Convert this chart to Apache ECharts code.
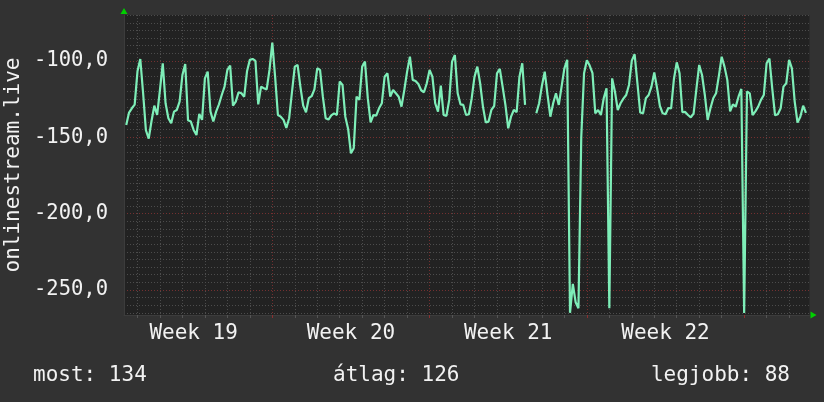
<!doctype html>
<html>
<head>
<meta charset="utf-8">
<title>onlinestream.live</title>
<style>
  html, body { margin: 0; padding: 0; background: #323232; }
  #main { width: 824px; height: 402px; }
</style>
</head>
<body>
<div id="main"></div>
<script src="https://cdn.jsdelivr.net/npm/echarts@6/dist/echarts.min.js"></script>
<script>
var font = '"DejaVu Sans Mono", monospace';
var seriesName = 'onlinestream.live';

// one sample every 3 hours, hours counted from the start of week 19
var startHour = 12;
var stepHours = 3;
var ranks = [
  141.9, 133.8, 131.0, 128.6, 106.8, 98.7, 121, 145.4, 150.9, 139.3,
  129.3, 135.4, 119.0, 101.5, 127.7, 137.5, 140.8, 133.2, 132.1, 126.6,
  109.2, 102, 138.9, 139.7, 145.2, 148.5, 134.7, 138.6, 111.4, 107,
  133.2, 139.7, 133.2, 128.4, 122.3, 116.8, 105.9, 103.1, 129.3, 126.6,
  120.5, 121.2, 123.4, 106.8, 99.3, 98.7, 100, 128.4, 116.8, 117.9,
  118.6, 105.9, 88, 110.3, 135.4, 136.5, 138.6, 143.9, 137.5, 120.5,
  103.7, 102.6, 116.8, 129.3, 133.6, 124.4, 123.1, 118.6, 104.8, 105.9,
  123.4, 137.5, 138.4, 135.6, 134.3, 135.4, 113.5, 115.7, 136.5, 144.5,
  160.5, 157.2, 123.4, 125.5, 103.7, 100.4, 124.4, 140.2, 135.4, 135.8,
  131.0, 127.7, 110.3, 108.1, 123.4, 119, 121.2, 123.4, 129.9, 119.0,
  107.0, 97.2, 112.4, 113.1, 115.1, 119.2, 120.5, 114.6, 105.9, 110.3,
  127.7, 133.2, 116.2, 135.4, 136, 125.5, 100.4, 96.1, 121.2, 128.4,
  128.8, 135.4, 134.9, 124.4, 110.3, 103.7, 114.6, 129.9, 140.2, 139.7,
  132.1, 129.5, 108.1, 105.2, 116.8, 128.8, 144.1, 136.5, 132.1, 133.6,
  110.3, 101.5, 128.8, null, null, null, 134.3, 127.7, 116.2, 107.0,
  122.3, 136.5, 127.7, 121.2, 128.8, 116.8, 104.8, 99.3, 265, 246,
  258, 262, 150, 108, 99.5, 103, 108, 134.3, 132.1, 135.4,
  124.4, 117.9, 262, 111.4, 120.1, 132.1, 127.7, 124.7, 122.3, 115.7,
  99.8, 95.6, 114.6, 133.8, 134.3, 124.4, 122.3, 116.8, 107.6, 117.9,
  129.5, 134.3, 134.9, 130.8, 131.0, 111.8, 100.9, 108.1, 133.6, 133.4,
  135.4, 136.9, 134.5, 118.3, 102.6, 109.2, 122.3, 138.6, 131.0, 124.4,
  121.2, 109.8, 97.2, 103.7, 112.4, 133, 128.4, 129.9, 123.4, 118.3,
  265, 120, 121.2, 135.4, 133, 129.9, 125.5, 122.3, 101.5, 98.5,
  117.9, 135.6, 134.9, 131.0, 116.8, 114.6, 99.3, 104.8, 126.6, 140.4,
  136.5, 129.3, 134
];

var xRange = [9.6, 741.8];
var yRange = [-266.4, -69.9];

var weekLines = [0, 168, 336, 504, 672];
var weekMid = [84, 252, 420, 588];
var weekLabels = ['Week 19', 'Week 20', 'Week 21', 'Week 22'];
var majorY = [-250, -200, -150, -100];

var legendNames = ['most', 'átlag', 'legjobb'];
var legendValues = [134, 126, 88];

var dayLines = [];
for (var h = 24; h < xRange[1]; h += 24) dayLines.push(h);
var minorY = [];
for (var v = -265; v <= -70; v += 5) minorY.push(v);

var points = ranks.map(function (r, i) {
  return [startHour + i * stepHours, r == null ? '-' : -r];
});

var white = '#f2f2f2';
var minorGrid = { color: '#4c4c4c', type: [1, 2], width: 1 };
var majorGrid = { color: '#743030', type: [1, 2], width: 1 };
var arrow = {
  show: true,
  symbol: ['none', 'triangle'],
  symbolSize: [7, 6],
  symbolOffset: [0, 4],
  lineStyle: { color: '#00d000', width: 0 }
};

var chart = echarts.init(document.getElementById('main'));

chart.setOption({
  backgroundColor: '#323232',
  animation: false,
  title: legendNames.map(function (n, i) {
    var t = {
      text: n + ': ' + legendValues[i],
      top: 360,
      textStyle: { color: white, fontFamily: font, fontSize: 21, fontWeight: 'normal' }
    };
    if (i === 0) t.left = 28;
    else if (i === 1) t.left = 328;
    else t.right = 29;
    return t;
  }),
  grid: {
    left: 124, right: 14.5, top: 15, bottom: 87,
    outerBoundsMode: 'none',
    show: true, backgroundColor: '#222222', borderWidth: 0
  },
  xAxis: [
    {
      type: 'value', min: xRange[0], max: xRange[1],
      axisLine: { show: true, lineStyle: { color: '#3c3c3c', width: 1 } },
      axisTick: { show: true, customValues: dayLines, length: 3, lineStyle: { color: '#555' } },
      axisLabel: { show: false },
      splitLine: { show: true, lineStyle: minorGrid }
    },
    {
      type: 'value', min: xRange[0], max: xRange[1], position: 'bottom',
      axisLine: arrow,
      axisTick: { show: true, customValues: weekLines, length: 3, lineStyle: { color: '#8a3030' } },
      axisLabel: {
        customValues: weekMid, color: white, fontFamily: font, fontSize: 21, margin: 8,
        formatter: function (v) { return weekLabels[weekMid.indexOf(v)]; }
      },
      splitLine: { show: true, lineStyle: majorGrid }
    }
  ],
  yAxis: [
    {
      type: 'value', min: yRange[0], max: yRange[1],
      name: seriesName, nameLocation: 'middle', nameGap: 100,
      nameTextStyle: { color: white, fontFamily: font, fontSize: 21 },
      axisLine: { show: true, lineStyle: { color: '#3c3c3c', width: 1 } },
      axisTick: { show: false, customValues: minorY },
      axisLabel: { show: false },
      splitLine: { show: true, lineStyle: minorGrid }
    },
    {
      type: 'value', min: yRange[0], max: yRange[1], position: 'left',
      axisLine: arrow,
      axisTick: { show: false, customValues: majorY },
      axisLabel: {
        customValues: majorY, color: white, fontFamily: font, fontSize: 20.5, margin: 16,
        formatter: function (v) { return v.toFixed(1).replace('.', ','); }
      },
      splitLine: { show: true, lineStyle: majorGrid }
    }
  ],
  series: [{
    name: seriesName,
    type: 'line',
    xAxisIndex: 0,
    yAxisIndex: 0,
    data: points,
    showSymbol: false,
    connectNulls: false,
    lineStyle: { color: '#7eeeb8', width: 2.2 },
    z: 5
  }]
});
</script>
</body>
</html>
